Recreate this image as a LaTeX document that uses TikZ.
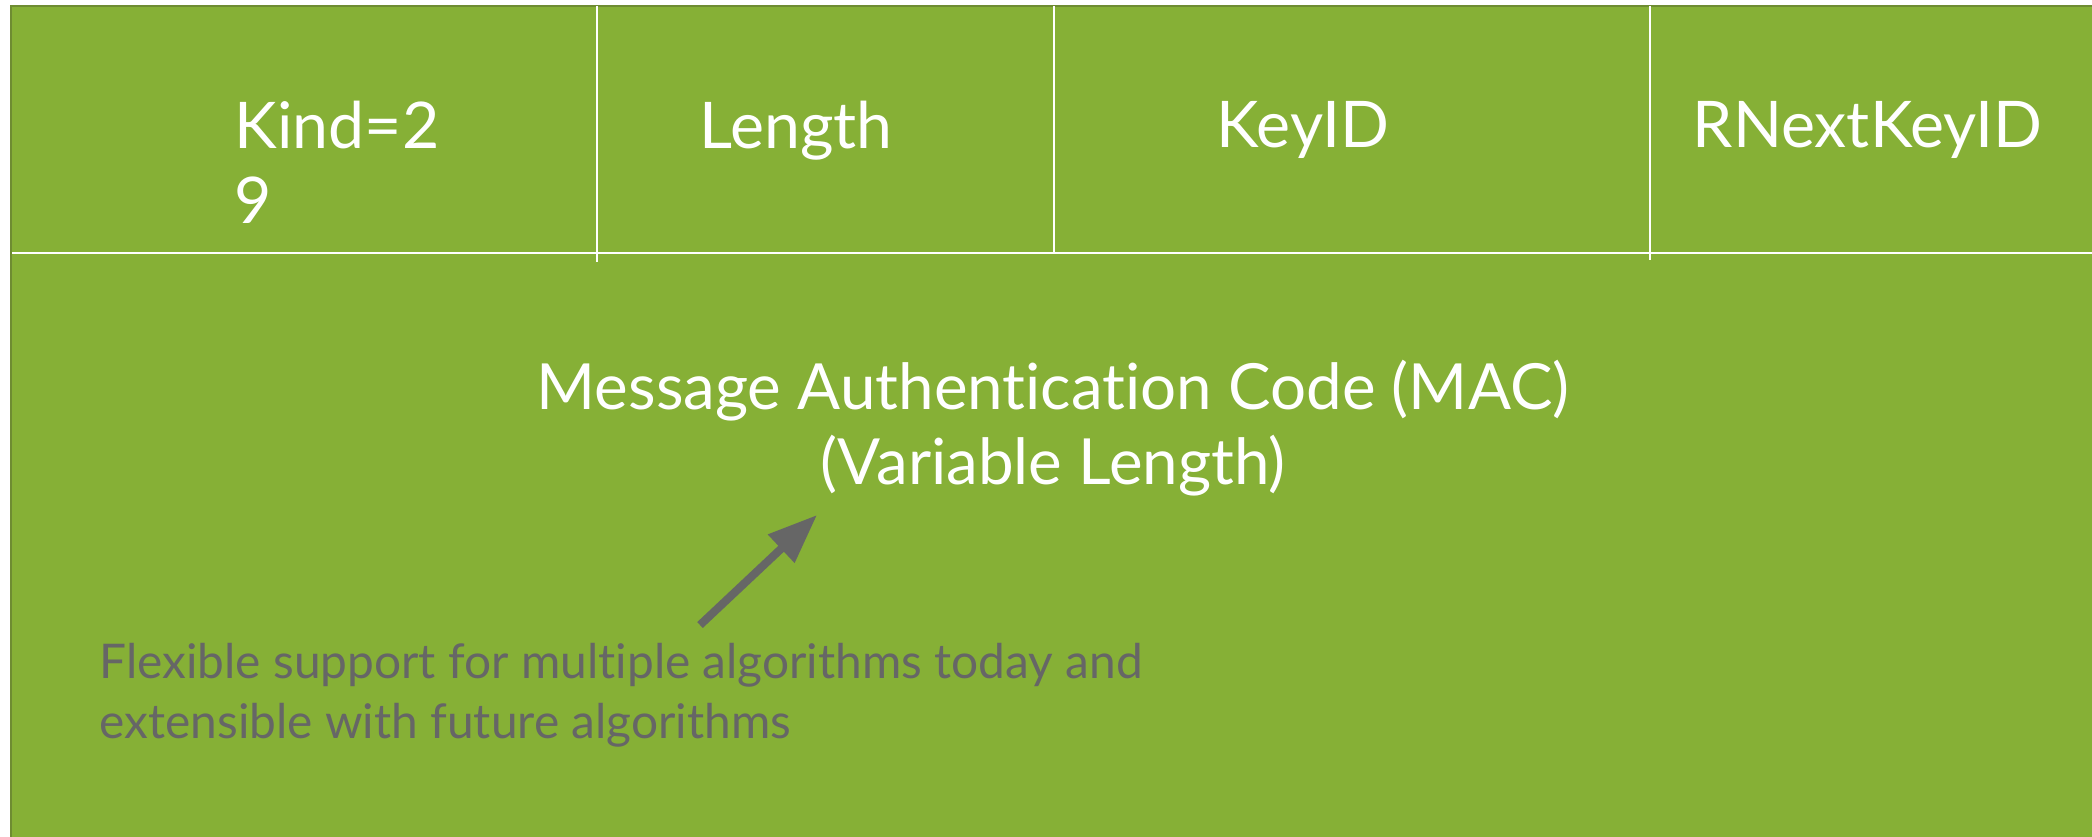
\documentclass[tikz,border=0pt]{standalone}
\usepackage{fontspec}
\setmainfont{Lato}[Ligatures=NoCommon]
\usepackage{xcolor}
\usetikzlibrary{arrows.meta}
\definecolor{panel}{HTML}{86B036}
\definecolor{edge}{HTML}{6E8C32}
\definecolor{note}{HTML}{666666}
\tikzset{
  sep/.style={draw=white, line width=0.6pt},
  field/.style={text=white, font=\fontsize{18.3}{21.3}\selectfont, inner sep=0pt},
  body/.style={text=white, font=\fontsize{18.1}{21.3}\selectfont, inner sep=0pt, align=center},
  remark/.style={text=note, font=\fontsize{13.6}{16.9}\selectfont, inner sep=0pt, align=left},
  ptr/.style={draw=note, line width=2.3pt, -{Triangle[length=14pt,width=10.5pt]}},
}
\begin{document}
\begin{tikzpicture}[x=0.01cm,y=-0.01cm]
  \useasboundingbox (0,0) rectangle (2092,836);
  \fill[white] (0,0) rectangle (2092,836);
  % option block
  \draw[draw=edge, fill=panel, line width=0.7pt] (11,6) rectangle (2120,870);
  \foreach \x/\y in {597/262,1054/253,1650/260}
    \draw[sep] (\x,6) -- (\x,\y);
  \draw[sep] (12,253) -- (2092,253);

  % header fields (base = last line)
  \node[field, anchor=base west, align=left] (kind) at (234,223) {Kind=2\\9};
  \node[field, anchor=base west] (len) at (699,148) {Length};
  \node[field, anchor=base west] (keyid) at (1216,147) {KeyID};
  \node[field, anchor=base west] (rnext) at (1692,147) {RNextKeyID};

  % body
  \node[body, anchor=base] (mac) at (1053,484)
    {Message Authentication Code (MAC)\\(Variable Length)};
  \node[remark, anchor=base west] (algs) at (99,738)
    {Flexible support for multiple algorithms today and\\extensible with future algorithms};

  \coordinate (tail) at (700,625);
  \coordinate (tip) at (817,515);
  \draw[ptr] (tail) -- (tip);
\end{tikzpicture}
\end{document}
